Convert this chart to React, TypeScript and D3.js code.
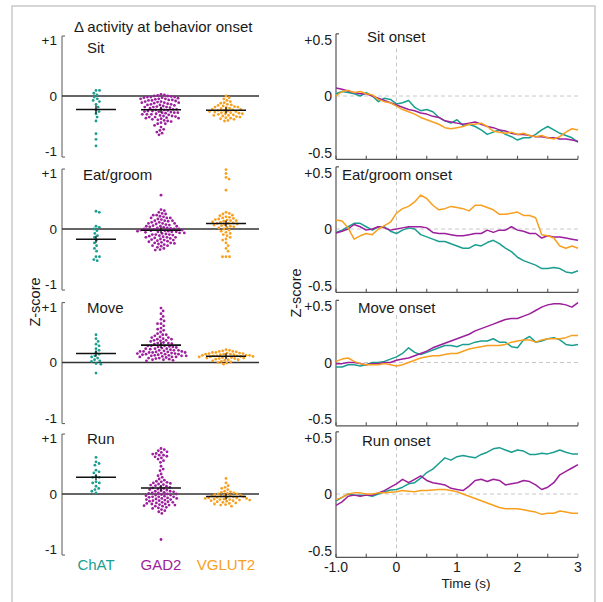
import React from "react";
import * as d3 from "d3";

// ---------- categories / labels ----------
const GROUPS = ["ChAT", "GAD2", "VGLUT2"];
const COLORS = ["#1b9e90", "#9c1f9c", "#f7a01f"];
const BEHAVIORS = ["Sit", "Eat/groom", "Move", "Run"];
const ONSET_TITLES = ["Sit onset", "Eat/groom onset", "Move onset", "Run onset"];
const LEFT_TICKS = [1, 0, -1];
const LEFT_TICK_LABELS = ["+1", "0", "-1"];
const RIGHT_TICKS = [0.5, 0, -0.5];
const RIGHT_TICK_LABELS = ["+0.5", "0", "-0.5"];
const TIME_TICKS = [-1, 0, 1, 2, 3];
const TIME_TICK_LABELS = ["-1.0", "0", "1", "2", "3"];
const TIME_MINOR_TICKS = [-1, -0.5, 0, 0.5, 1, 1.5, 2, 2.5, 3];

// ---------- Δ activity (z-score) per neuron ----------
const sitChAT = [0.1, 0.1, 0.05, 0.02, -0.02, -0.05, -0.08, -0.1, -0.15, -0.2, -0.25, -0.28, -0.32, -0.38, -0.45, -0.68, -0.78, -0.9];
const sitGAD2 = [0.03, 0.02, 0.01, 0, 0, -0.01, -0.02, -0.02, -0.03, -0.03, -0.04, -0.05, -0.05, -0.06, -0.07, -0.07, -0.08, -0.09, -0.1, -0.1, -0.11, -0.12, -0.12, -0.13, -0.14, -0.15, -0.15, -0.16, -0.17, -0.18, -0.19, -0.2, -0.2, -0.21, -0.22, -0.23, -0.24, -0.25, -0.25, -0.26, -0.27, -0.28, -0.28, -0.29, -0.3, -0.3, -0.31, -0.32, -0.33, -0.33, -0.34, -0.35, -0.36, -0.37, -0.38, -0.39, -0.4, -0.41, -0.42, -0.44, -0.46, -0.48, -0.5, -0.53, -0.56, -0.6, -0.62, -0.65, -0.67, -0.7, -0.02, -0.05, -0.08, -0.12, -0.16, -0.2, -0.24, -0.27, -0.3, -0.33, -0.36, -0.38, -0.4, -0.43, -0.45, -0.5];
const sitVGLUT2 = [0.0, -0.03, -0.05, -0.08, -0.1, -0.12, -0.13, -0.15, -0.16, -0.17, -0.18, -0.19, -0.2, -0.2, -0.21, -0.22, -0.23, -0.24, -0.24, -0.25, -0.26, -0.26, -0.27, -0.28, -0.28, -0.29, -0.3, -0.3, -0.31, -0.32, -0.32, -0.33, -0.34, -0.35, -0.35, -0.36, -0.37, -0.38, -0.39, -0.4, -0.41, -0.42, -0.44, -0.45];

const eatChAT = [0.32, 0.3, 0.05, 0.03, 0.0, -0.03, -0.08, -0.12, -0.15, -0.2, -0.25, -0.3, -0.35, -0.4, -0.5, -0.5, -0.55, -0.57];
const eatGAD2 = [0.61, 0.35, 0.33, 0.3, 0.28, 0.27, 0.25, 0.23, 0.22, 0.2, 0.2, 0.18, 0.17, 0.15, 0.15, 0.14, 0.12, 0.12, 0.1, 0.1, 0.09, 0.08, 0.07, 0.06, 0.05, 0.05, 0.04, 0.03, 0.02, 0.02, 0.01, 0.0, 0.0, -0.01, -0.01, -0.02, -0.02, -0.03, -0.03, -0.04, -0.05, -0.05, -0.06, -0.07, -0.07, -0.08, -0.09, -0.1, -0.1, -0.11, -0.12, -0.13, -0.14, -0.15, -0.15, -0.16, -0.17, -0.18, -0.19, -0.2, -0.21, -0.22, -0.23, -0.24, -0.25, -0.26, -0.27, -0.28, -0.3, -0.31, -0.33, -0.35, -0.37, -0.38, 0.1, 0.05, 0.0, -0.05, -0.1, -0.15, 0.15, -0.2, 0.2, -0.25, 0.25, -0.3, -0.02, -0.04];
const eatVGLUT2 = [1.07, 1.0, 0.93, 0.9, 0.7, 0.3, 0.28, 0.27, 0.25, 0.24, 0.22, 0.21, 0.2, 0.19, 0.18, 0.17, 0.16, 0.15, 0.15, 0.14, 0.13, 0.12, 0.11, 0.1, 0.1, 0.09, 0.08, 0.07, 0.06, 0.05, 0.04, 0.03, 0.02, 0.0, -0.02, -0.04, -0.06, -0.08, -0.1, -0.12, -0.15, -0.18, -0.2, -0.25, -0.3, -0.35, -0.4, -0.5, -0.5, -0.5];

const moveChAT = [0.5, 0.43, 0.38, 0.33, 0.3, 0.25, 0.22, 0.18, 0.15, 0.12, 0.1, 0.08, 0.05, 0.03, 0.02, -0.02, -0.03, -0.19];
const moveGAD2 = [0.98, 0.93, 0.88, 0.83, 0.78, 0.75, 0.7, 0.66, 0.62, 0.58, 0.55, 0.52, 0.5, 0.48, 0.46, 0.45, 0.43, 0.42, 0.4, 0.39, 0.38, 0.36, 0.35, 0.34, 0.33, 0.32, 0.3, 0.3, 0.29, 0.28, 0.27, 0.26, 0.25, 0.25, 0.24, 0.23, 0.22, 0.22, 0.21, 0.2, 0.2, 0.19, 0.19, 0.18, 0.18, 0.17, 0.17, 0.16, 0.16, 0.15, 0.15, 0.14, 0.14, 0.13, 0.13, 0.12, 0.12, 0.11, 0.1, 0.1, 0.09, 0.08, 0.07, 0.06, 0.05, 0.04, 0.03, 0.25, 0.22, 0.2, 0.18, 0.15, 0.12, 0.1, 0.08, 0.05, 0.28, 0.3, 0.35, 0.4, 0.45, 0.6, 0.7, 0.5, 0.42];
const moveVGLUT2 = [0.23, 0.22, 0.21, 0.2, 0.2, 0.19, 0.18, 0.18, 0.17, 0.17, 0.16, 0.16, 0.15, 0.15, 0.15, 0.14, 0.14, 0.13, 0.13, 0.13, 0.12, 0.12, 0.12, 0.11, 0.11, 0.1, 0.1, 0.1, 0.09, 0.09, 0.08, 0.08, 0.07, 0.07, 0.06, 0.05, 0.05, 0.04, 0.03, 0.02, 0.01, 0.0, -0.01, -0.03];

const runChAT = [0.66, 0.55, 0.58, 0.52, 0.4, 0.43, 0.38, 0.3, 0.32, 0.3, 0.22, 0.2, 0.2, 0.14, 0.08, 0.1, 0.05, 0.02];
const runGAD2 = [0.82, 0.8, 0.78, 0.76, 0.75, 0.73, 0.72, 0.7, 0.7, 0.68, 0.67, 0.65, 0.63, 0.6, 0.57, 0.5, 0.45, 0.42, 0.36, 0.33, 0.3, 0.27, 0.25, 0.23, 0.22, 0.21, 0.2, 0.19, 0.18, 0.17, 0.16, 0.15, 0.14, 0.13, 0.12, 0.11, 0.1, 0.09, 0.08, 0.07, 0.06, 0.05, 0.04, 0.03, 0.02, 0.01, 0.0, -0.01, -0.02, -0.03, -0.04, -0.05, -0.06, -0.07, -0.08, -0.09, -0.1, -0.11, -0.12, -0.13, -0.14, -0.15, -0.16, -0.17, -0.18, -0.19, -0.2, -0.21, -0.22, -0.24, -0.26, -0.28, -0.3, -0.32, -0.35, -0.82, 0.05, 0.0, -0.05, -0.1, -0.15, -0.2, -0.25, -0.02, 0.02, -0.08, -0.12, -0.18, -0.22, -0.05];
const runVGLUT2 = [0.28, 0.2, 0.15, 0.12, 0.1, 0.08, 0.05, 0.04, 0.03, 0.02, 0.01, 0.0, 0.0, -0.01, -0.02, -0.02, -0.03, -0.04, -0.04, -0.05, -0.05, -0.06, -0.06, -0.07, -0.07, -0.08, -0.08, -0.09, -0.09, -0.1, -0.1, -0.11, -0.11, -0.12, -0.12, -0.13, -0.14, -0.15, -0.16, -0.17, -0.18, -0.19, -0.2, -0.22];

// ---------- mean traces (z-score), sampled every 0.1 s from -1.0 to 3.0 s ----------
const TIME = d3.range(41).map((i) => Math.round((-1 + i * 0.1) * 10) / 10);

const sitTraceChAT = [0.02, 0.04, 0.03, 0.02, 0.0, 0.03, 0.0, -0.05, -0.02, -0.03, -0.07, -0.06, -0.04, -0.1, -0.13, -0.12, -0.14, -0.19, -0.22, -0.24, -0.21, -0.26, -0.25, -0.27, -0.3, -0.34, -0.32, -0.3, -0.34, -0.36, -0.39, -0.37, -0.37, -0.34, -0.3, -0.27, -0.3, -0.33, -0.35, -0.37, -0.41];
const sitTraceGAD2 = [0.07, 0.06, 0.045, 0.03, 0.02, 0.02, 0.0, -0.02, -0.04, -0.06, -0.08, -0.1, -0.12, -0.13, -0.15, -0.16, -0.18, -0.19, -0.22, -0.23, -0.24, -0.25, -0.24, -0.23, -0.25, -0.27, -0.28, -0.3, -0.31, -0.33, -0.34, -0.34, -0.35, -0.36, -0.36, -0.37, -0.37, -0.38, -0.38, -0.39, -0.4];
const sitTraceVGLUT2 = [0.0, 0.04, 0.05, 0.03, 0.04, 0.02, 0.01, -0.03, -0.05, -0.06, -0.09, -0.12, -0.14, -0.16, -0.19, -0.21, -0.23, -0.25, -0.28, -0.29, -0.28, -0.27, -0.25, -0.25, -0.24, -0.27, -0.31, -0.32, -0.33, -0.32, -0.34, -0.33, -0.35, -0.36, -0.35, -0.37, -0.38, -0.36, -0.32, -0.29, -0.3];

const eatTraceChAT = [-0.03, -0.01, 0.02, 0.05, 0.05, 0.02, -0.01, 0.02, 0.02, -0.02, -0.04, -0.01, 0.01, 0.0, -0.05, -0.07, -0.09, -0.11, -0.11, -0.13, -0.15, -0.17, -0.17, -0.14, -0.15, -0.12, -0.1, -0.13, -0.17, -0.2, -0.25, -0.28, -0.3, -0.32, -0.35, -0.35, -0.34, -0.35, -0.38, -0.39, -0.37];
const eatTraceGAD2 = [-0.035, -0.02, 0.0, 0.04, 0.02, -0.01, 0.0, 0.02, 0.01, -0.01, 0.0, 0.01, 0.02, 0.02, 0.02, 0.01, -0.03, -0.04, -0.04, -0.05, -0.06, -0.06, -0.05, -0.04, -0.04, -0.01, -0.03, -0.01, -0.01, 0.02, -0.01, -0.02, -0.04, -0.04, -0.08, -0.06, -0.07, -0.07, -0.08, -0.09, -0.1];
const eatTraceVGLUT2 = [0.08, 0.07, 0.01, -0.09, -0.06, -0.04, -0.05, 0.0, 0.03, 0.06, 0.14, 0.18, 0.2, 0.24, 0.3, 0.27, 0.21, 0.17, 0.18, 0.2, 0.19, 0.18, 0.16, 0.21, 0.21, 0.19, 0.17, 0.13, 0.13, 0.14, 0.15, 0.12, 0.12, 0.1, -0.05, -0.06, -0.08, -0.15, -0.17, -0.15, -0.17];

const moveTraceChAT = [-0.04, -0.04, -0.02, -0.02, -0.03, -0.02, 0.0, 0.0, 0.01, 0.03, 0.05, 0.08, 0.13, 0.09, 0.07, 0.09, 0.11, 0.13, 0.15, 0.15, 0.14, 0.16, 0.16, 0.18, 0.19, 0.19, 0.21, 0.18, 0.18, 0.14, 0.13, 0.2, 0.23, 0.18, 0.19, 0.21, 0.22, 0.2, 0.16, 0.15, 0.16];
const moveTraceGAD2 = [-0.01, -0.01, 0.0, 0.0, -0.01, -0.02, -0.01, -0.01, 0.0, 0.0, 0.02, 0.03, 0.04, 0.06, 0.08, 0.1, 0.13, 0.15, 0.17, 0.19, 0.21, 0.23, 0.25, 0.28, 0.3, 0.32, 0.34, 0.36, 0.38, 0.39, 0.39, 0.41, 0.43, 0.46, 0.49, 0.51, 0.52, 0.52, 0.51, 0.49, 0.53];
const moveTraceVGLUT2 = [0.01, 0.03, 0.04, 0.01, -0.01, -0.02, -0.02, -0.02, -0.01, -0.02, -0.03, -0.02, 0.0, 0.02, 0.04, 0.05, 0.06, 0.06, 0.07, 0.08, 0.08, 0.1, 0.12, 0.13, 0.14, 0.15, 0.15, 0.15, 0.16, 0.18, 0.19, 0.2, 0.2, 0.18, 0.2, 0.21, 0.21, 0.21, 0.22, 0.24, 0.24];

const runTraceChAT = [-0.06, -0.03, 0.0, -0.01, -0.01, -0.01, -0.02, 0.0, 0.02, 0.035, 0.04, 0.06, 0.09, 0.1, 0.14, 0.19, 0.22, 0.27, 0.32, 0.3, 0.33, 0.34, 0.33, 0.32, 0.35, 0.37, 0.4, 0.41, 0.39, 0.37, 0.39, 0.38, 0.35, 0.35, 0.36, 0.355, 0.37, 0.39, 0.37, 0.355, 0.355];
const runTraceGAD2 = [-0.1, -0.07, -0.02, -0.01, -0.02, -0.01, -0.01, 0.01, 0.03, 0.06, 0.09, 0.13, 0.1, 0.13, 0.16, 0.12, 0.1, 0.09, 0.08, 0.05, 0.04, 0.03, 0.07, 0.12, 0.13, 0.11, 0.13, 0.12, 0.08, 0.09, 0.1, 0.12, 0.11, 0.08, 0.04, 0.06, 0.1, 0.17, 0.2, 0.23, 0.26];
const runTraceVGLUT2 = [-0.05, -0.03, 0.0, 0.01, 0.01, 0.0, 0.0, 0.01, 0.01, 0.015, 0.02, 0.03, 0.025, 0.02, 0.03, 0.03, 0.035, 0.04, 0.04, 0.03, 0.02, 0.0, -0.02, -0.04, -0.06, -0.08, -0.1, -0.12, -0.13, -0.13, -0.13, -0.14, -0.15, -0.16, -0.18, -0.17, -0.17, -0.15, -0.16, -0.17, -0.17];

const SWARMS = [
  [sitChAT, sitGAD2, sitVGLUT2],
  [eatChAT, eatGAD2, eatVGLUT2],
  [moveChAT, moveGAD2, moveVGLUT2],
  [runChAT, runGAD2, runVGLUT2],
];
const TRACES = [
  [sitTraceChAT, sitTraceGAD2, sitTraceVGLUT2],
  [eatTraceChAT, eatTraceGAD2, eatTraceVGLUT2],
  [moveTraceChAT, moveTraceGAD2, moveTraceVGLUT2],
  [runTraceChAT, runTraceGAD2, runTraceVGLUT2],
];

// ---------- layout ----------
const W = 603;
const H = 602;
const FONT = "'Liberation Sans', Arial, Helvetica, sans-serif";
const ZEROS = [96, 229, 362.5, 494];
const LEFT_PX_PER_UNIT = 55.5;
const RIGHT_PX_PER_UNIT = 113;
const LEFT_AXIS_X = 62;
const ZERO_LINE_END = 259;
const DOT_R = 1.4;
const DOT_SPACING = 3.5;
const MEAN_HALF = 20;

function beeswarm(values: number[], y: (v: number) => number, d: number) {
  const pts = values.map((v) => ({ v, y: y(v), x: 0 }));
  const order = [...pts].sort((a, b) => a.y - b.y);
  const placed: { x: number; y: number }[] = [];
  for (const p of order) {
    const cands = [0];
    for (const q of placed) {
      const dy = Math.abs(q.y - p.y);
      if (dy < d) {
        const dx = Math.sqrt(d * d - dy * dy);
        cands.push(q.x + dx, q.x - dx);
      }
    }
    cands.sort((a, b) => Math.abs(a) - Math.abs(b));
    for (const c of cands) {
      let ok = true;
      for (const q of placed) {
        if ((q.x - c) ** 2 + (q.y - p.y) ** 2 < d * d - 1e-6) {
          ok = false;
          break;
        }
      }
      if (ok) {
        p.x = c;
        break;
      }
    }
    placed.push(p);
  }
  return pts;
}

export default function App() {
  const xTime = d3.scaleLinear().domain([-1, 3]).range([336, 578]);
  const xGroup = d3.scalePoint<string>().domain(GROUPS).range([96, 226]);
  const textStyle = { fontFamily: FONT, fill: "#1a1a1a" } as React.CSSProperties;

  return (
    <svg
      width={W}
      height={H}
      viewBox={`0 0 ${W} ${H}`}
      style={{ position: "absolute", left: 0, top: 0, background: "#fff" }}
    >
      <rect x={0} y={0} width={W} height={H} fill="#fff" />
      <rect x={12} y={6} width={583} height={640} fill="none" stroke="#c9c9c9" strokeWidth={1.5} />

      <text x={74} y={32} fontSize={15} style={textStyle}>
        Δ activity at behavior onset
      </text>

      {BEHAVIORS.map((b, i) => {
        const z = ZEROS[i];
        const yL = d3
          .scaleLinear()
          .domain([-1, 1])
          .range([z + LEFT_PX_PER_UNIT, z - LEFT_PX_PER_UNIT]);
        const yR = d3
          .scaleLinear()
          .domain([-0.5, 0.5])
          .range([z + RIGHT_PX_PER_UNIT / 2, z - RIGHT_PX_PER_UNIT / 2]);
        const lTop = yL(1.08);
        const lBot = yL(-1.1);
        const rTop = yR(0.55);
        const rBot = yR(-0.56);
        const line = d3
          .line<number>()
          .x((_, k) => xTime(TIME[k]))
          .y((v) => yR(v));
        const labelX = [87, 83, 87, 87][i];
        const labelY = [53, 180, 313, 444][i];
        const onsetX = [367, 342, 358, 362][i];
        const onsetY = [42, 180, 313, 446][i];
        return (
          <g key={b}>
            {/* ---------- left: swarm panel ---------- */}
            <line x1={LEFT_AXIS_X} x2={LEFT_AXIS_X} y1={lTop} y2={lBot} stroke="#666" strokeWidth={1.1} />
            <line x1={LEFT_AXIS_X} x2={LEFT_AXIS_X + 3} y1={lTop} y2={lTop} stroke="#666" strokeWidth={1.1} />
            <line x1={LEFT_AXIS_X} x2={LEFT_AXIS_X + 3} y1={lBot} y2={lBot} stroke="#666" strokeWidth={1.1} />
            {LEFT_TICKS.map((t, k) => (
              <text
                key={k}
                x={LEFT_AXIS_X - 5}
                y={yL(t)}
                dy="0.36em"
                textAnchor="end"
                fontSize={13.5}
                style={textStyle}
              >
                {LEFT_TICK_LABELS[k]}
              </text>
            ))}
            <line x1={LEFT_AXIS_X} x2={ZERO_LINE_END} y1={yL(0)} y2={yL(0)} stroke="#333" strokeWidth={1.3} />
            <text x={labelX} y={labelY} fontSize={15} style={textStyle}>
              {b}
            </text>
            {SWARMS[i].map((vals, g) => {
              const cx = xGroup(GROUPS[g]) as number;
              const pts = beeswarm(vals, yL, DOT_SPACING);
              const mean = d3.mean(vals) as number;
              const sem = (d3.deviation(vals) as number) / Math.sqrt(vals.length);
              const semPx = Math.max(3, Math.abs(yL(mean + sem) - yL(mean)));
              return (
                <g key={g}>
                  {pts.map((p, k) => (
                    <circle key={k} cx={cx + p.x} cy={p.y} r={DOT_R} fill={COLORS[g]} />
                  ))}
                  <line
                    x1={cx - MEAN_HALF}
                    x2={cx + MEAN_HALF}
                    y1={yL(mean)}
                    y2={yL(mean)}
                    stroke="#111"
                    strokeWidth={1.6}
                  />
                  <line
                    x1={cx}
                    x2={cx}
                    y1={yL(mean) - semPx}
                    y2={yL(mean) + semPx}
                    stroke="#111"
                    strokeWidth={1.3}
                  />
                </g>
              );
            })}

            {/* ---------- right: time-course panel ---------- */}
            <line x1={xTime(-1)} x2={xTime(3)} y1={yR(0)} y2={yR(0)} stroke="#c8c8c8" strokeWidth={1} strokeDasharray="4,3" />
            <line x1={xTime(0)} x2={xTime(0)} y1={yR(0.42)} y2={rBot} stroke="#c8c8c8" strokeWidth={1} strokeDasharray="4,3" />
            <line x1={xTime(-1)} x2={xTime(-1)} y1={rTop} y2={rBot} stroke="#555" strokeWidth={1.2} />
            <line x1={xTime(-1)} x2={xTime(-1) + 3} y1={rTop} y2={rTop} stroke="#555" strokeWidth={1.2} />
            <line x1={xTime(-1)} x2={xTime(3)} y1={rBot} y2={rBot} stroke="#555" strokeWidth={1.2} />
            {TIME_MINOR_TICKS.map((t) => (
              <line key={t} x1={xTime(t)} x2={xTime(t)} y1={rBot} y2={rBot - 3.5} stroke="#555" strokeWidth={1.1} />
            ))}
            {RIGHT_TICKS.map((t, k) => (
              <text
                key={k}
                x={xTime(-1) - 4}
                y={yR(t)}
                dy="0.36em"
                textAnchor="end"
                fontSize={14}
                style={textStyle}
              >
                {RIGHT_TICK_LABELS[k]}
              </text>
            ))}
            <text x={onsetX} y={onsetY} fontSize={15} style={textStyle}>
              {ONSET_TITLES[i]}
            </text>
            {TRACES[i].map((tr, g) => (
              <path key={g} d={line(tr) || ""} fill="none" stroke={COLORS[g]} strokeWidth={1.5} strokeLinejoin="round" />
            ))}
          </g>
        );
      })}

      {/* group labels */}
      {GROUPS.map((g, k) => (
        <text
          key={g}
          x={xGroup(g) as number}
          y={570}
          textAnchor="middle"
          fontSize={15}
          style={{ fontFamily: FONT, fill: COLORS[k] }}
        >
          {g}
        </text>
      ))}

      {/* time axis labels */}
      {TIME_TICKS.map((t, k) => (
        <text key={t} x={xTime(t)} y={572} textAnchor="middle" fontSize={14} style={textStyle}>
          {TIME_TICK_LABELS[k]}
        </text>
      ))}
      <text x={xTime(1.15)} y={588} textAnchor="middle" fontSize={13.5} style={textStyle}>
        Time (s)
      </text>

      {/* y titles */}
      <text
        transform="translate(35,302) rotate(-90)"
        textAnchor="middle"
        dy="0.35em"
        fontSize={14.5}
        style={textStyle}
      >
        Z-score
      </text>
      <text
        transform="translate(296,293) rotate(-90)"
        textAnchor="middle"
        dy="0.35em"
        fontSize={14.5}
        style={textStyle}
      >
        Z-score
      </text>
    </svg>
  );
}
